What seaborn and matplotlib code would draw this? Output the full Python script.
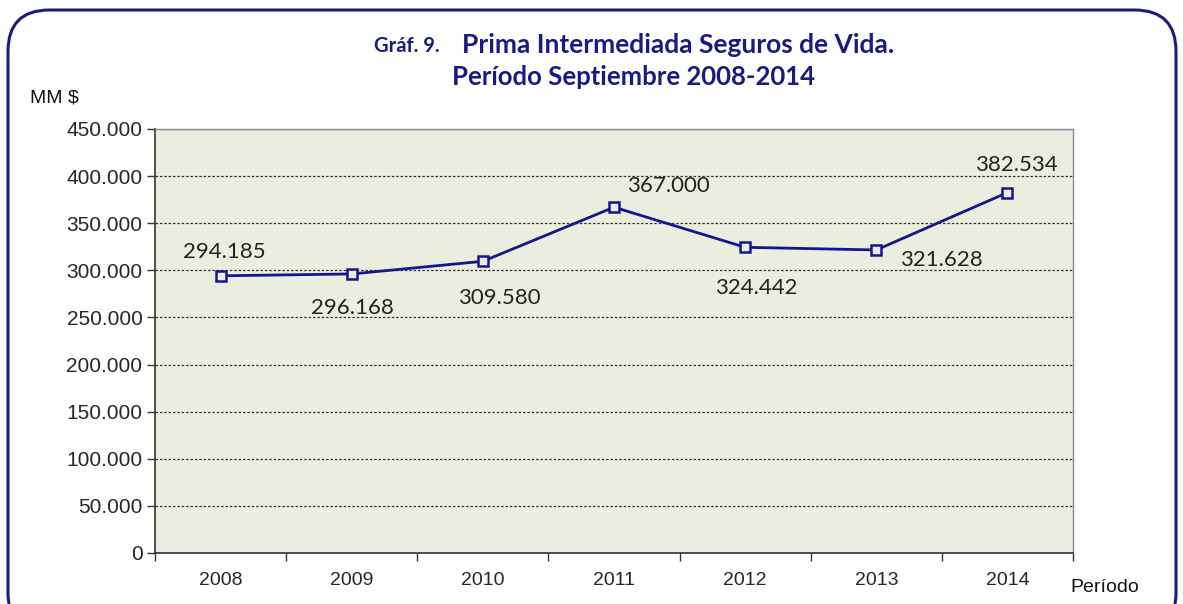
import pandas as pd
import matplotlib
matplotlib.use("Agg")
import matplotlib.pyplot as plt
import seaborn as sns
from matplotlib.patches import FancyBboxPatch
from matplotlib.ticker import FuncFormatter, FixedLocator

anios = ["2008", "2009", "2010", "2011", "2012", "2013", "2014"]
prima = [294185, 296168, 309580, 367000, 324442, 321628, 382534]
etiquetas = ["294.185", "296.168", "309.580", "367.000", "324.442", "321.628", "382.534"]

df = pd.DataFrame({"Periodo": anios, "Prima": prima})

sns.set_style("white")
plt.rcParams['font.family'] = ['Liberation Sans', 'DejaVu Sans']

azul = "#16168c"

fig = plt.figure(figsize=(11.83, 6.04), dpi=100)
ax = fig.add_axes([155/1183, 1 - 553/604, (1073-155)/1183, (553-129)/604])
ax.set_facecolor("#ebeedf")

sns.lineplot(data=df, x="Periodo", y="Prima", ax=ax, color=azul, linewidth=2,
             marker="s", markersize=6.5, markerfacecolor="#ebeedf",
             markeredgecolor=azul, markeredgewidth=1.8, sort=False)

ax.set_xlim(-0.5, 6.5)
ax.set_ylim(0, 450000)
ax.set_yticks(range(0, 450001, 50000))
ax.yaxis.set_major_formatter(FuncFormatter(lambda v, p: f"{v:,.0f}".replace(",", ".")))
ax.yaxis.grid(True, linestyle=(0, (2, 1.5)), color="#333333", linewidth=0.9)
ax.set_axisbelow(True)

ax.set_xticks(range(len(anios)))
ax.set_xticklabels(anios)
ax.xaxis.set_minor_locator(FixedLocator([i - 0.5 for i in range(len(anios) + 1)]))
ax.tick_params(axis="x", which="major", length=0, pad=14, labelsize=14)
ax.tick_params(axis="x", which="minor", length=6, width=1, color="#333333", direction="out", bottom=True)
ax.tick_params(axis="y", length=6, width=1, color="#333333", direction="out", left=True, labelsize=15, pad=3)

for lado in ["top", "right"]:
    ax.spines[lado].set_color("#8a8a8a")
    ax.spines[lado].set_linewidth(1)
for lado in ["left", "bottom"]:
    ax.spines[lado].set_color("#333333")
    ax.spines[lado].set_linewidth(1.2)

ax.set_xlabel("")
ax.set_ylabel("")

# posiciones de las etiquetas de datos (desplazamiento en puntos)
desplaz = [(3, 17), (0.7, -24.5), (11.5, -26.6), (39, 15), (8, -29.5), (47, -7), (6.5, 20)]
for i, (val, txt) in enumerate(zip(prima, etiquetas)):
    ax.annotate(txt, (i, val), xytext=desplaz[i], textcoords="offset points",
                ha="center", va="center", fontsize=16, color="#222222",
                family=["Lato", "DejaVu Sans"])

fig.text(30/1183, 1 - 98/604, "MM $", fontsize=14, ha="left", va="center", color="#111111")
fig.text(1105/1183, 1 - 588/604, "Período", fontsize=14, ha="center", va="center", color="#111111")

titulo = dict(fontweight="bold", va="center", color="#1a1a80", family=["Lato", "DejaVu Sans"])
fig.text(440/1183, 1 - 46/604, "Gráf. 9.", fontsize=14.5, ha="right", **titulo)
fig.text(462/1183, 1 - 45/604, "Prima Intermediada Seguros de Vida.", fontsize=19, ha="left", **titulo)
fig.text(634/1183, 1 - 77/604, "Período Septiembre 2008-2014", fontsize=18.5, ha="center", **titulo)

marco = FancyBboxPatch((8/1183, -0.05), (1176-8)/1183, (1.05 - 10/604),
                       boxstyle="round,pad=0,rounding_size=0.035",
                       transform=fig.transFigure, fill=False,
                       edgecolor="#1c1c7a", linewidth=2.2, mutation_aspect=1183/604)
fig.patches.append(marco)

fig.savefig("out.png", dpi=100, facecolor="white")
